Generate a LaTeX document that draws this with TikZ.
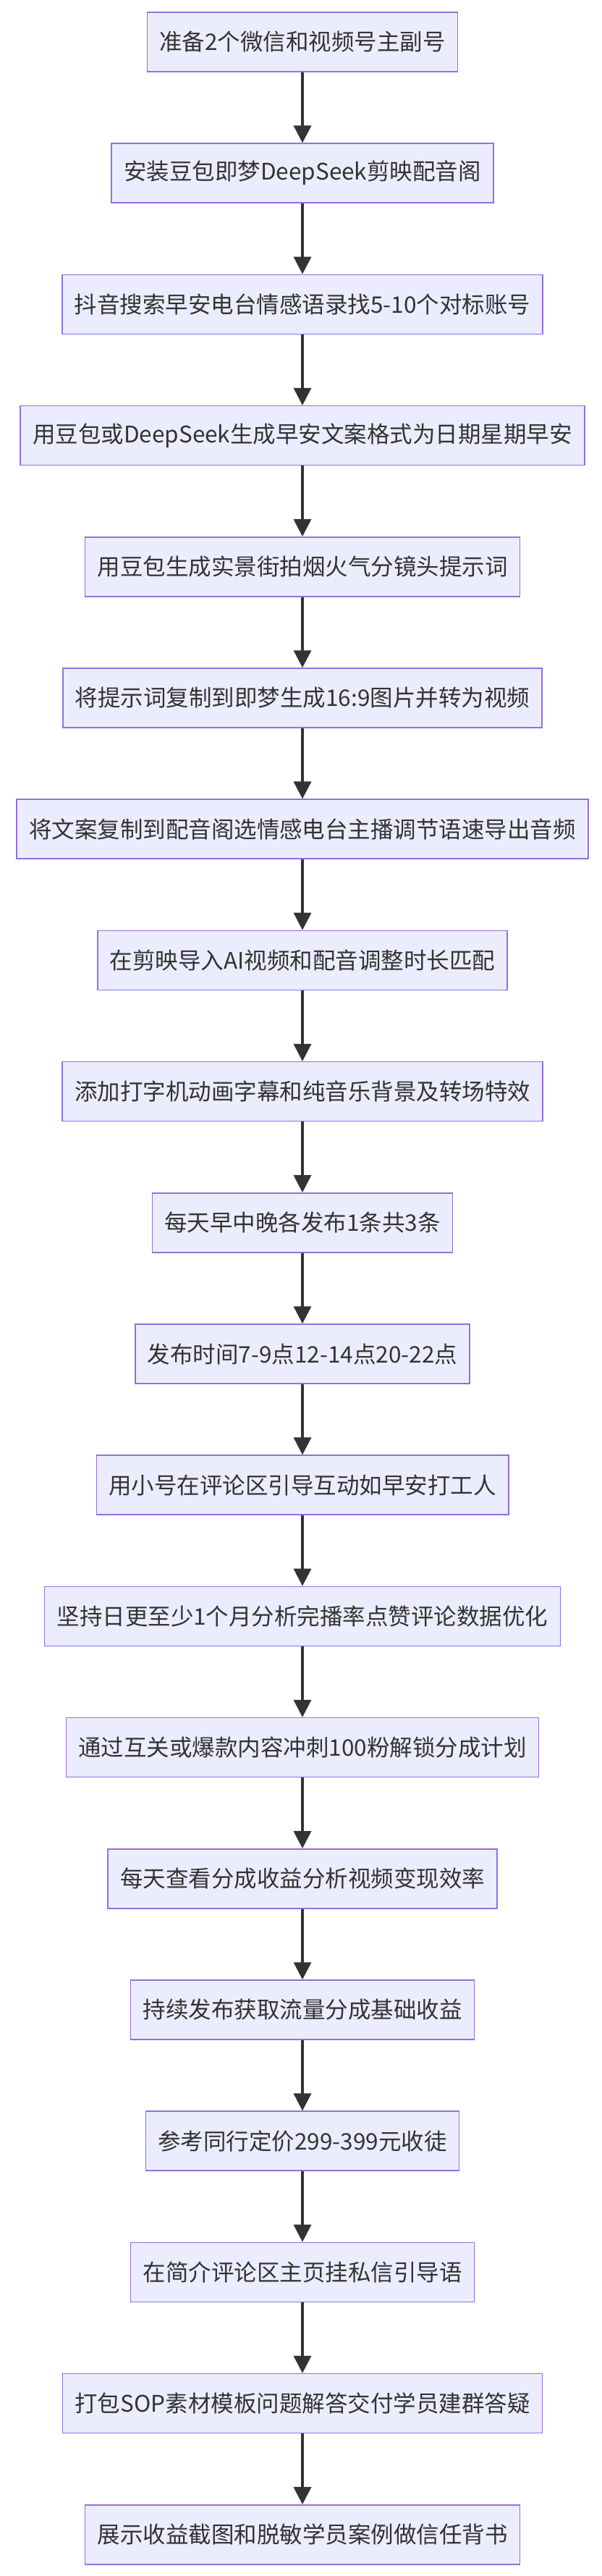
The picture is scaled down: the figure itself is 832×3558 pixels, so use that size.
\documentclass[tikz,border=0pt]{standalone}
\usepackage{fontspec}
\setmainfont{Noto Sans CJK SC}
\usetikzlibrary{arrows.meta}
\definecolor{boxfill}{HTML}{ECECFF}
\definecolor{boxline}{HTML}{9370DB}
\definecolor{ink}{HTML}{333333}
\tikzset{
  stepbox/.style={draw=boxline, fill=boxfill, line width=1.5pt, minimum height=82pt, inner xsep=17pt, text=ink, font=\fontsize{31.5pt}{36pt}\selectfont},
  flow/.style={draw=ink, line width=3.5pt, -{Triangle[length=24pt,width=24pt]}}
}
\begin{document}
\begin{tikzpicture}[x=1pt,y=-1pt]
\useasboundingbox (0,0) rectangle (832,3558);
\foreach \t [count=\i from 0] in {
准备2个微信和视频号主副号,
安装豆包即梦DeepSeek剪映配音阁,
抖音搜索早安电台情感语录找5-10个对标账号,
用豆包或DeepSeek生成早安文案格式为日期星期早安,
用豆包生成实景街拍烟火气分镜头提示词,
将提示词复制到即梦生成16:9图片并转为视频,
将文案复制到配音阁选情感电台主播调节语速导出音频,
在剪映导入AI视频和配音调整时长匹配,
添加打字机动画字幕和纯音乐背景及转场特效,
每天早中晚各发布1条共3条,
发布时间7-9点12-14点20-22点,
用小号在评论区引导互动如早安打工人,
坚持日更至少1个月分析完播率点赞评论数据优化,
通过互关或爆款内容冲刺100粉解锁分成计划,
每天查看分成收益分析视频变现效率,
持续发布获取流量分成基础收益,
参考同行定价299-399元收徒,
在简介评论区主页挂私信引导语,
打包SOP素材模板问题解答交付学员建群答疑,
展示收益截图和脱敏学员案例做信任背书}
  { \node[stepbox] (n\i) at (418, 58+181.2*\i) {\t}; }
\foreach \i [evaluate=\i as \j using int(\i+1)] in {0,...,18}
  { \draw[flow] (n\i) -- (n\j); }
\end{tikzpicture}
\end{document}
